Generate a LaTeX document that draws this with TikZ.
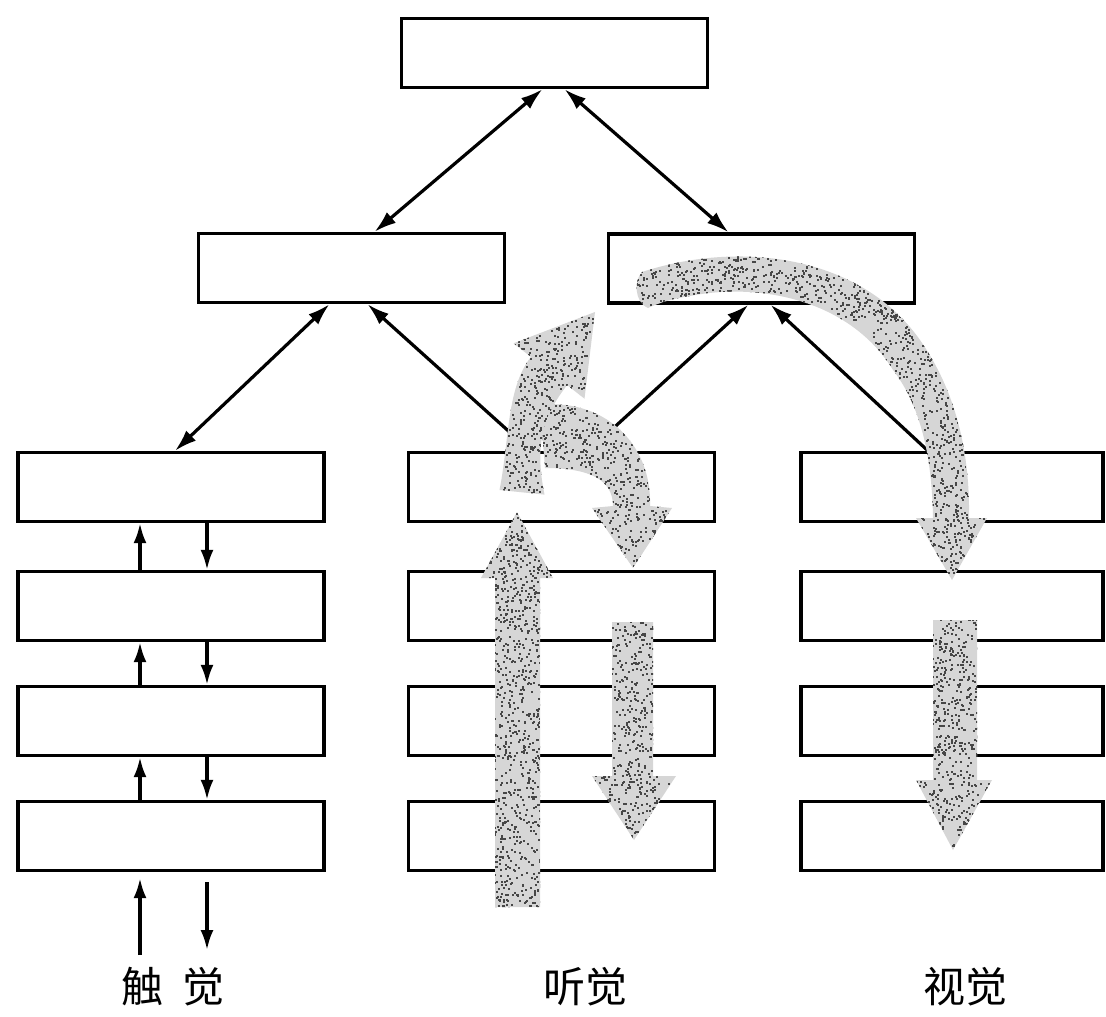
\documentclass[tikz,border=0pt]{standalone}
\usepackage{fontspec}
\newfontfamily\cjk{Noto Sans CJK SC}
\usetikzlibrary{arrows.meta,calc}
\newcommand\speck[5]{\foreach \j in {1,...,#5}{\fill[gdot] ({#1+rnd*#3},{#2+rnd*#4}) rectangle ++(2,2);}}
\newcommand\grayarrow[2]{\fill[gfill] #1;\begin{scope}\clip #1; #2\end{scope}}
\begin{document}
\begin{tikzpicture}[x=1pt,y=-1pt,
  box/.style={draw,line width=3.3pt,minimum width=306pt,minimum height=69pt,inner sep=0pt,fill=white},
  rbox/.style={box,minimum width=302pt},
  con/.style={line width=3.2pt,-{Latex[length=22pt,width=14pt]}},
  dcon/.style={line width=3.2pt,{Latex[length=22pt,width=14pt]}-{Latex[length=22pt,width=14pt]}},
  sm/.style={line width=3.2pt,-{Latex[length=20pt,width=13pt]}},
  lab/.style={font=\cjk\fontsize{42}{42}\selectfont,inner sep=0pt},
  gfill/.style={fill=gray!32},
  gdot/.style={fill=black!72}
]
\useasboundingbox (0,0) rectangle (1106,1017);
\pgfmathsetseed{7}
% boxes
\node[box] (top) at (554.5,53) {};
\node[box] (ml) at (351.5,268) {};
\node[box] (mr) at (761.5,268.5) {};
\foreach \n/\y in {1/487,2/606,3/721,4/836}{
  \node[box] (L\n) at (171,\y) {};
  \node[box] (M\n) at (561.5,\y) {};
  \node[rbox] (R\n) at (952,\y) {};
}
% connectors
\draw[dcon] ([xshift=-12pt]top.south) -- ([xshift=23pt]ml.north);
\draw[dcon] ([xshift=10pt]top.south) -- ([xshift=-33pt]mr.north);
\draw[dcon] ([xshift=-22pt]ml.south) -- ([xshift=4pt]L1.north);
\draw[con] ([xshift=-31pt]M1.north) -- ([xshift=16pt]ml.south);
\draw[con] ([xshift=27pt]M1.north) -- ([xshift=-13pt]mr.south);
\draw[con] ([xshift=-24pt]R1.north) -- ([xshift=9pt]mr.south);
\foreach \a/\b in {L2/L1,L3/L2,L4/L3}{
  \draw[sm] ([xshift=-31pt]\a.north) -- ([xshift=-31pt]\b.south);
  \draw[sm] ([xshift=36pt]\b.south) -- ([xshift=36pt]\a.north);
}
\coordinate (inU) at (140,955);
\coordinate (outD) at (207,950);
\draw[sm,shorten >=6pt] (inU) -- ([xshift=-31pt]L4.south);
\draw[sm,shorten <=10pt] ([xshift=36pt]L4.south) -- (outD);
% gray textured arrows
\grayarrow{(642,272) .. controls (740,240) and (860,255) .. (920,340) .. controls (955,390) and (970,450) .. (969,518) -- (987,518) -- (952,580) -- (916,518) -- (933,518) .. controls (932,455) and (920,405) .. (893,370) .. controls (850,300) and (760,282) .. (690,296) .. controls (665,300) and (655,305) .. (648,308) .. controls (634,302) and (634,280) .. (642,272) -- cycle}
  {\speck{634}{240}{310}{80}{1100}\speck{870}{300}{120}{285}{1450}}
\grayarrow{(495,907) -- (495,578) -- (481,578) -- (517,512) -- (553,578) -- (540,578) -- (540,907) -- cycle}
  {\speck{480}{510}{75}{400}{1350}}
\grayarrow{(612,622) -- (653,622) -- (653,776) -- (676,776) -- (634,840) -- (592,776) -- (612,776) -- cycle}
  {\speck{590}{620}{88}{222}{800}}
\grayarrow{(933,620) -- (977,620) -- (977,780) -- (992,780) -- (953,850) -- (916,780) -- (933,780) -- cycle}
  {\speck{914}{618}{80}{234}{800}}
\grayarrow{(540,405) .. controls (600,398) and (652,440) .. (650,506) -- (672,508) -- (633,568) -- (592,508) -- (613,506) .. controls (613,480) and (590,468) .. (545,468) -- cycle}
  {\speck{538}{396}{136}{174}{1000}}
\grayarrow{(499.5,490) .. controls (509.5,440) and (506.3,388.5) .. (530.9,356.9) -- (513.5,343.3) -- (595,312) -- (584.5,398.7) -- (567.1,385.1) .. controls (542.5,416.7) and (534.5,445.6) .. (544.5,494.6) -- cycle}
  {\speck{497}{310}{100}{188}{820}}
% labels
\node[lab] (lt) at (173,987) {触\hspace{19pt}觉};
\node[lab] (la) at (585,987) {听觉};
\node[lab] (lv) at (965,987) {视觉};
\end{tikzpicture}
\end{document}
